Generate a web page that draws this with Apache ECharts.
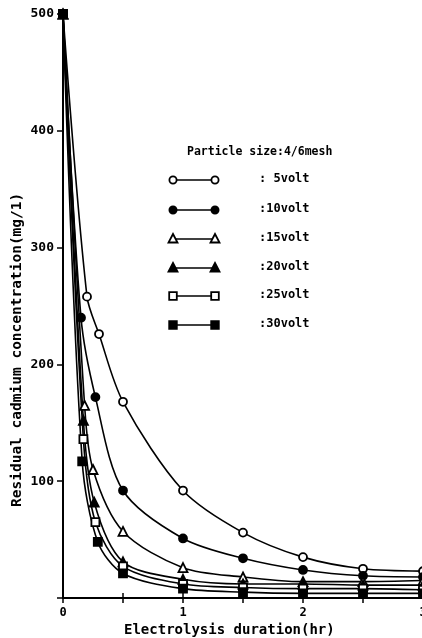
<!DOCTYPE html>
<html>
<head>
<meta charset="utf-8">
<script src="https://cdn.jsdelivr.net/npm/echarts@6/dist/echarts.min.js"></script>
<style>html,body{margin:0;padding:0;background:#fff;}#c{width:422px;height:638px;}</style>
</head>
<body>
<div id="c"></div>
<script>
// Data (time in hr, residual Cd in mg/l)
const seriesNames = [': 5volt', ':10volt', ':15volt', ':20volt', ':25volt', ':30volt'];
const t5  = [0, 0.2, 0.3, 0.5, 1, 1.5, 2, 2.5, 3];
const c5  = [500, 258, 226, 168, 92, 56, 35, 25, 23];
const t10 = [0, 0.15, 0.27, 0.5, 1, 1.5, 2, 2.5, 3];
const c10 = [500, 240, 172, 92, 51, 34, 24, 19, 18];
const t15 = [0, 0.18, 0.25, 0.5, 1, 1.5, 2, 2.5, 3];
const c15 = [500, 165, 110, 57, 26, 18, 14, 14, 15];
const t20 = [0, 0.17, 0.26, 0.5, 1, 1.5, 2, 2.5, 3];
const c20 = [500, 152, 82, 31, 16, 12, 12, 11, 11];
const t25 = [0, 0.17, 0.27, 0.5, 1, 1.5, 2, 2.5, 3];
const c25 = [500, 136, 65, 27, 12, 9, 8, 8, 7];
const t30 = [0, 0.16, 0.29, 0.5, 1, 1.5, 2, 2.5, 3];
const c30 = [500, 117, 48, 21, 8, 5, 4, 4, 4];
const xTickLabels = ['0', '1', '2', '3'];
const yTickLabels = ['100', '200', '300', '400', '500'];
const legendTitle = 'Particle size:4/6mesh';
const xTitle = 'Electrolysis duration(hr)';
const yTitle = 'Residual cadmium concentration(mg/1)';

const times = [t5, t10, t15, t20, t25, t30];
const values = [c5, c10, c15, c20, c25, c30];
const symbols = ['circle', 'circle', 'triangle', 'triangle', 'rect', 'rect'];
const filled = [false, true, false, true, false, true];
const mono = '"DejaVu Sans Mono", "Liberation Mono", monospace';

const chart = echarts.init(document.getElementById('c'), null, {renderer: 'canvas'});

const series = seriesNames.map((n, i) => ({
  name: n,
  type: 'line',
  xAxisIndex: 0, yAxisIndex: 0,
  data: times[i].map((t, j) => [t, values[i][j]]),
  smooth: 0.3,
  symbol: symbols[i],
  symbolSize: symbols[i] === 'triangle' ? 9 : 8,
  showAllSymbol: true,
  clip: false,
  lineStyle: {color: '#000', width: 1.6},
  itemStyle: {color: filled[i] ? '#000' : '#fff', borderColor: '#000', borderWidth: 1.8},
  z: 3
}));

// Legend drawn as graphic
const graphics = [];
const legX1 = 173, legX2 = 215, legTextX = 259;
const rowY = [180, 210, 239, 268, 296, 325];
graphics.push({type: 'text', left: 187, top: 146, style: {text: legendTitle, font: 'bold 11.5px ' + mono, fill: '#000'}});
seriesNames.forEach((n, i) => {
  const y = rowY[i];
  graphics.push({type: 'line', shape: {x1: legX1, y1: y, x2: legX2, y2: y}, style: {stroke: '#000', lineWidth: 1.5}});
  [legX1, legX2].forEach(x => {
    if (symbols[i] === 'circle') {
      graphics.push({type: 'circle', shape: {cx: x, cy: y, r: 3.6}, style: {fill: filled[i] ? '#000' : '#fff', stroke: '#000', lineWidth: 1.8}});
    } else if (symbols[i] === 'triangle') {
      graphics.push({type: 'polygon', shape: {points: [[x, y - 5], [x + 4.5, y + 3.5], [x - 4.5, y + 3.5]]}, style: {fill: filled[i] ? '#000' : '#fff', stroke: '#000', lineWidth: 1.8}});
    } else {
      graphics.push({type: 'rect', shape: {x: x - 3.8, y: y - 3.8, width: 7.6, height: 7.6}, style: {fill: filled[i] ? '#000' : '#fff', stroke: '#000', lineWidth: 1.8}});
    }
  });
  graphics.push({type: 'text', left: legTextX, top: y - 7, style: {text: n, font: 'bold 12px ' + mono, fill: '#000'}});
});
graphics.push({type: 'text', left: 124, top: 623, style: {text: xTitle, font: 'bold 14px ' + mono, fill: '#000'}});
graphics.push({type: 'text', x: 10, y: 507, rotation: Math.PI / 2, style: {text: yTitle, font: 'bold 14.5px ' + mono, fill: '#000', textVerticalAlign: 'top'}});

chart.setOption({
  animation: false,
  backgroundColor: '#fff',
  grid: {left: 63, top: 14, width: 360, height: 584, containLabel: false, outerBoundsMode: 'none'},
  xAxis: [{
    type: 'value', min: 0, max: 3, interval: 0.5, position: 'bottom',
    axisLine: {show: true, lineStyle: {color: '#000', width: 2}},
    axisTick: {show: true, inside: true, length: 5, lineStyle: {color: '#000', width: 1.5}},
    axisLabel: {
      margin: 9, color: '#000', fontFamily: mono, fontWeight: 'bold', fontSize: 12,
      alignMaxLabel: 'center', hideOverlap: false,
      formatter: v => (Number.isInteger(v) ? xTickLabels[v] : '')
    },
    splitLine: {show: false}
  }, {
    type: 'value', min: 0, max: 3, interval: 0.5, position: 'top',
    axisLine: {show: true, lineStyle: {color: '#000', width: 2}},
    axisTick: {show: true, inside: true, length: 5, lineStyle: {color: '#000', width: 1.5}},
    axisLabel: {show: false}, splitLine: {show: false}
  }],
  yAxis: [{
    type: 'value', min: 0, max: 500, interval: 100, position: 'left',
    axisLine: {show: true, lineStyle: {color: '#000', width: 2}},
    axisTick: {show: true, inside: false, length: 6, lineStyle: {color: '#000', width: 1.5}},
    axisLabel: {
      margin: 9, color: '#000', fontFamily: mono, fontWeight: 'bold', fontSize: 13,
      formatter: v => (v === 0 ? '' : yTickLabels[v / 100 - 1])
    },
    splitLine: {show: false}
  }, {
    type: 'value', min: 0, max: 500, interval: 100, position: 'right',
    axisLine: {show: true, lineStyle: {color: '#000', width: 2}},
    axisTick: {show: true, inside: true, length: 5, lineStyle: {color: '#000', width: 1.5}},
    axisLabel: {show: false}, splitLine: {show: false}
  }],
  series: series,
  graphic: graphics
});
</script>
</body>
</html>
